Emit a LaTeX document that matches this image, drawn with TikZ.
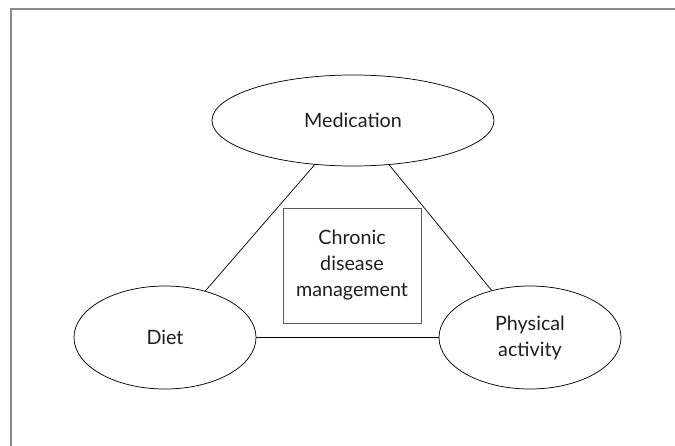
\documentclass[tikz,border=0pt]{standalone}
\usepackage{fontspec}
\setmainfont{Lato}
\usetikzlibrary{shapes.geometric}
\definecolor{framegray}{HTML}{8A8A8A}
\definecolor{boxgray}{HTML}{5A5A5A}
\definecolor{textgray}{HTML}{1E1E1E}

\begin{document}
\begin{tikzpicture}[x=0.75pt, y=-0.75pt,
    oval/.style={ellipse, draw, line width=0.55pt, inner sep=0pt, align=center,
      font=\fontsize{14.8}{19.5}\selectfont, text=textgray},
    centrebox/.style={rectangle, draw=boxgray, line width=0.75pt, inner sep=0pt,
      minimum width=103.5pt, minimum height=86.25pt, align=center,
      font=\fontsize{14.8}{19.5}\selectfont, text=textgray},
    link/.style={line width=0.55pt}]
    \useasboundingbox (0,0) rectangle (675,446);

    % Outer frame
    \draw[framegray, line width=1.2pt] (11,446) -- (11,9) -- (675,9);

    % Three ellipses
    \node[oval, minimum width=211.5pt, minimum height=68.25pt] (medication) at (353,120.5) {Medication};
    \node[oval, minimum width=136.5pt, minimum height=77.25pt] (diet) at (165,337.5) {Diet};
    \node[oval, minimum width=136.5pt, minimum height=77.25pt] (activity) at (530,337.5) {Physical\\activity};

    % Centre box
    \node[centrebox] (management) at (352,265.5) {Chronic\\disease\\management};

    % Links between the ellipses
    \draw[link] (medication) -- (diet);
    \draw[link] (medication) -- (activity);
    \draw[link] (diet) -- (activity);
\end{tikzpicture}
\end{document}
